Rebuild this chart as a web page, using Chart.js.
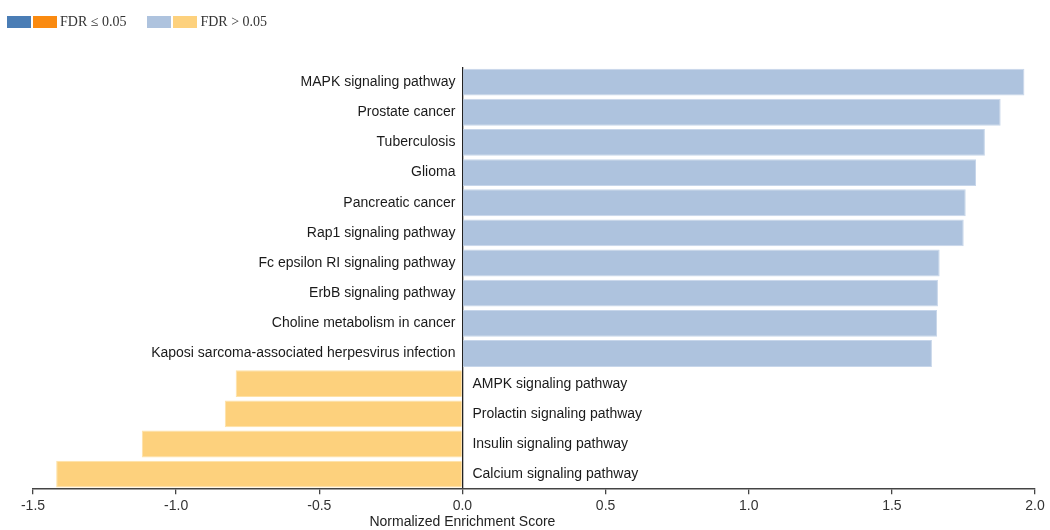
<!DOCTYPE html>
<html>
<head>
<meta charset="utf-8">
<script src="https://cdn.jsdelivr.net/npm/chart.js@4"></script>
<style>
  html, body { margin: 0; padding: 0; background: #fff; }
  #wrap { position: relative; width: 1050px; height: 530px; }
  canvas { position: absolute; left: 0; top: 0; }
  .legend { position: absolute; top: 14px; left: 7px; display: flex; align-items: center;
            font-family: "Liberation Serif", "Times New Roman", serif; font-size: 14px; color: #333; }
  .sw { display: inline-block; width: 24px; height: 12px; margin-right: 2px; }
  .lg { display: flex; align-items: center; margin-right: 21px; }
  .lg span.t { margin-left: 1px; }
</style>
</head>
<body>
<div id="wrap">
  <canvas id="c" width="1050" height="530"></canvas>
  <div class="legend" id="legend"></div>
</div>
<script>
// ---- data ----
const categories = [
  "MAPK signaling pathway",
  "Prostate cancer",
  "Tuberculosis",
  "Glioma",
  "Pancreatic cancer",
  "Rap1 signaling pathway",
  "Fc epsilon RI signaling pathway",
  "ErbB signaling pathway",
  "Choline metabolism in cancer",
  "Kaposi sarcoma-associated herpesvirus infection",
  "AMPK signaling pathway",
  "Prolactin signaling pathway",
  "Insulin signaling pathway",
  "Calcium signaling pathway"
];
const nesScores = [1.963, 1.880, 1.825, 1.794, 1.758, 1.751, 1.667, 1.661, 1.658, 1.640,
                   -0.792, -0.830, -1.120, -1.419];
const fdrSignificant = [false, false, false, false, false, false, false, false, false, false,
                        false, false, false, false];
const xTickValues = [-1.5, -1.0, -0.5, 0.0, 0.5, 1.0, 1.5, 2.0];
const legendLabels = ["FDR \u2264 0.05", "FDR > 0.05"];
const axisTitle = "Normalized Enrichment Score";

// ---- colours ----
const colPosSig = "#4a7db5", colNegSig = "#fa8a10";
const colPosNS = "#aec3de", colNegNS = "#fdd17d";
const borderPosNS = "#c7d6ea", borderNegNS = "#fee2a8";

// legend
const legendDefs = [
  { colors: [colPosSig, colNegSig], label: legendLabels[0] },
  { colors: [colPosNS, colNegNS], label: legendLabels[1] }
];
const legEl = document.getElementById("legend");
legendDefs.forEach(d => {
  const g = document.createElement("div");
  g.className = "lg";
  d.colors.forEach(c => {
    const s = document.createElement("span");
    s.className = "sw"; s.style.background = c; g.appendChild(s);
  });
  const t = document.createElement("span");
  t.className = "t"; t.textContent = d.label; g.appendChild(t);
  legEl.appendChild(g);
});

const barColors = nesScores.map((v, i) => v >= 0 ? (fdrSignificant[i] ? colPosSig : colPosNS)
                                                  : (fdrSignificant[i] ? colNegSig : colNegNS));
const barBorders = nesScores.map((v, i) => v >= 0 ? borderPosNS : borderNegNS);

const labelFont = '14px "Liberation Sans", Arial, sans-serif';

const labelPlugin = {
  id: "pathLabels",
  afterDatasetsDraw(chart) {
    const ctx = chart.ctx;
    const xs = chart.scales.x, ys = chart.scales.y;
    const x0 = xs.getPixelForValue(0);
    ctx.save();
    ctx.font = labelFont;
    ctx.fillStyle = "#1a1a1a";
    ctx.textBaseline = "middle";
    categories.forEach((name, i) => {
      const y = ys.getPixelForValue(i);
      if (nesScores[i] >= 0) {
        ctx.textAlign = "right";
        ctx.fillText(name, x0 - 7, y);
      } else {
        ctx.textAlign = "left";
        ctx.fillText(name, x0 + 10, y);
      }
    });
    // axis title centred under zero
    ctx.textAlign = "center";
    ctx.textBaseline = "middle";
    ctx.fillStyle = "#222";
    ctx.fillText(axisTitle, x0, 522);
    ctx.restore();
  }
};

new Chart(document.getElementById("c"), {
  type: "bar",
  data: {
    labels: categories,
    datasets: [{
      data: nesScores,
      backgroundColor: barColors,
      borderColor: barBorders,
      borderWidth: 1,
      barPercentage: 0.89,
      categoryPercentage: 1.0
    }]
  },
  options: {
    indexAxis: "y",
    responsive: false,
    animation: false,
    devicePixelRatio: 1,
    layout: { padding: { left: 33, right: 15, top: 67, bottom: 11 } },
    plugins: { legend: { display: false }, tooltip: { enabled: false } },
    scales: {
      x: {
        type: "linear",
        min: -1.5, max: 2.0,
        afterBuildTicks(scale) { scale.ticks = xTickValues.map(v => ({ value: v })); },
        ticks: {
          callback: v => Number(v).toFixed(1),
          font: { size: 14, family: '"Liberation Sans", Arial, sans-serif' },
          color: "#333",
          padding: 4,
          maxRotation: 0
        },
        grid: {
          color: ctx => (ctx.tick && ctx.tick.value === 0) ? "#222" : "rgba(0,0,0,0)",
          lineWidth: 1.3,
          tickColor: "#444",
          tickLength: 5,
          drawOnChartArea: true
        },
        border: { display: true, color: "#444", width: 1.5 }
      },
      y: { display: false }
    }
  },
  plugins: [labelPlugin]
});
</script>
</body>
</html>
